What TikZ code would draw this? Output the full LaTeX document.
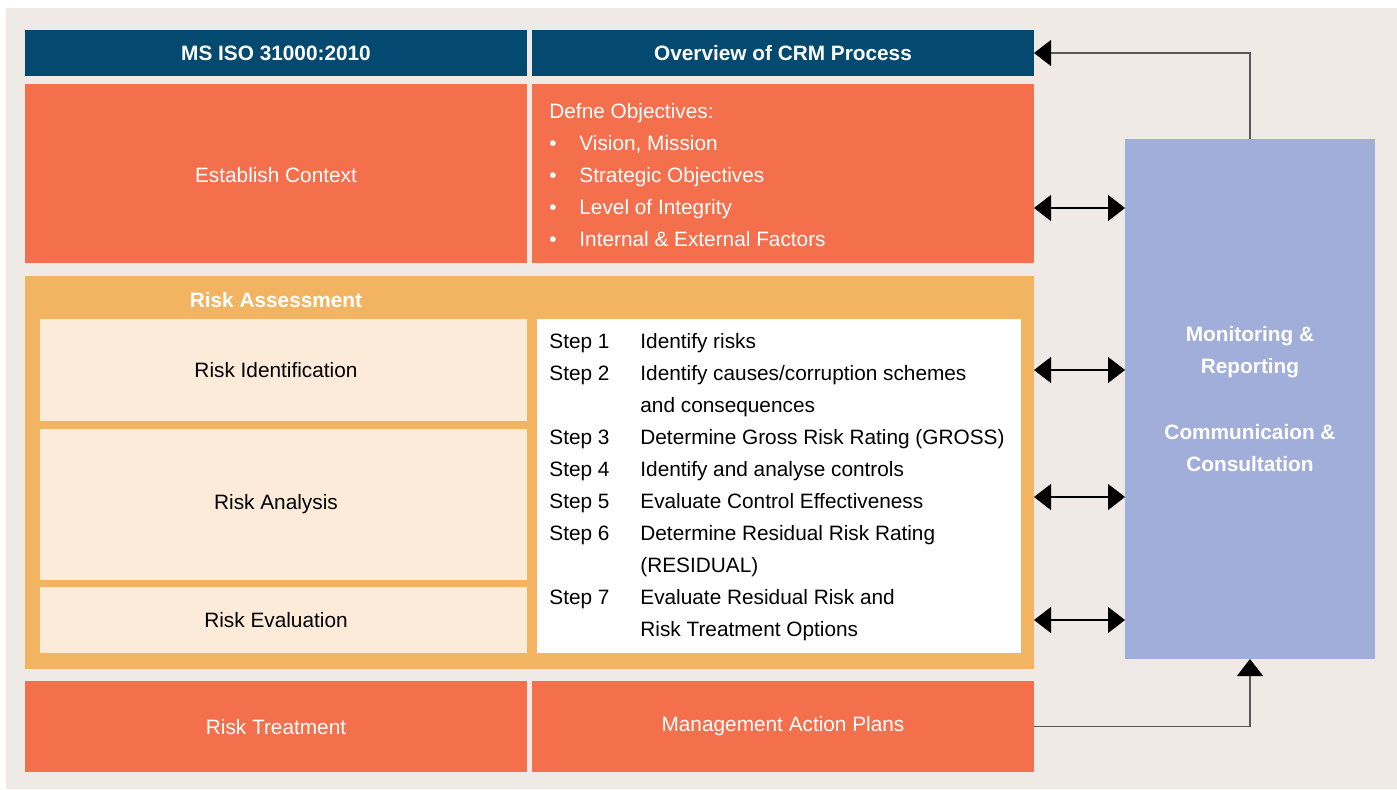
\documentclass[tikz,border=0pt]{standalone}
\usepackage{fontspec}
\setmainfont{Liberation Sans}
\usetikzlibrary{arrows.meta}
\usepackage{xcolor}
\definecolor{navy}{HTML}{044A70}
\definecolor{coral}{HTML}{F4704D}
\definecolor{gold}{HTML}{F2B461}
\definecolor{cream}{HTML}{FCEBD8}
\definecolor{lilac}{HTML}{A2AEDA}
\definecolor{paper}{HTML}{EFEAE6}

\begin{document}
\begin{tikzpicture}[x=0.5pt,y=-0.5pt,font=\fontsize{10.4}{12}\selectfont,
  >={Triangle[length=8.5pt,width=13pt,color=black]},
  box/.style={inner sep=0pt,outer sep=0pt,minimum width=251pt},
  hdr/.style={box,fill=navy,text=white,font=\fontsize{10.4}{12}\selectfont\bfseries,minimum height=23pt},
  hot/.style={box,fill=coral,text=white},
  sub/.style={box,fill=cream,minimum width=243.5pt},
  txt/.style={inner sep=0pt,anchor=base west},
  wtxt/.style={txt,text=white},
  btxt/.style={text=white,font=\fontsize{10.4}{12}\selectfont\bfseries},
  link/.style={draw=black!65,line width=0.6pt},
  dbl/.style={draw=black,line width=0.6pt}]
\useasboundingbox (0,0) rectangle (1397,789);
\fill[paper] (6,8) rectangle (1397,789);
% header row
\node[hdr] (iso) at (276,53) {MS ISO 31000:2010};
\node[hdr] (crm) at (783,53) {Overview of CRM Process};
% context row
\node[hot,minimum height=89.5pt] (ctx) at (276,173.5) {};
\node (ctxlbl) [text=white] at (276,175) {Establish Context};
\node[hot,minimum height=89.5pt] (obj) at (783,173.5) {};
\node[wtxt] at (549,118) {Defne Objectives:};
\node[wtxt] at (549,150) {•};
\node[wtxt] at (579,150) {Vision, Mission};
\node[wtxt] at (549,182) {•};
\node[wtxt] at (579,182) {Strategic Objectives};
\node[wtxt] at (549,214) {•};
\node[wtxt] at (579,214) {Level of Integrity};
\node[wtxt] at (549,246) {•};
\node[wtxt] at (579,246) {Internal \& External Factors};
% risk assessment
\node[box,fill=gold,minimum width=504.5pt,minimum height=196.5pt] (assess) at (529.5,472.5) {};
\node[btxt] (assesslbl) at (276,300) {Risk Assessment};
\node[sub,minimum height=51pt] (ident) at (283.5,370) {};
\node (identlbl) at (276,370) {Risk Identification};
\node[sub,minimum height=75.5pt] (anal) at (283.5,504.5) {};
\node (anallbl) at (276,504) {Risk Analysis};
\node[sub,minimum height=33pt] (evalu) at (283.5,620) {};
\node (evalulbl) at (276,620) {Risk Evaluation};
\node[box,fill=white,minimum width=242pt,minimum height=167pt] (steps) at (779,486) {};
\node[txt] at (549,348) {Step 1};
\node[txt] at (640,348) {Identify risks};
\node[txt] at (549,380) {Step 2};
\node[txt] at (640,380) {Identify causes/corruption schemes};
\node[txt] at (640,412) {and consequences};
\node[txt] at (549,444) {Step 3};
\node[txt] at (640,444) {Determine Gross Risk Rating (GROSS)};
\node[txt] at (549,476) {Step 4};
\node[txt] at (640,476) {Identify and analyse controls};
\node[txt] at (549,508) {Step 5};
\node[txt] at (640,508) {Evaluate Control Effectiveness};
\node[txt] at (549,540) {Step 6};
\node[txt] at (640,540) {Determine Residual Risk Rating};
\node[txt] at (640,572) {(RESIDUAL)};
\node[txt] at (549,604) {Step 7};
\node[txt] at (640,604) {Evaluate Residual Risk and};
\node[txt] at (640,636) {Risk Treatment Options};
% treatment row
\node[hot,minimum height=45.5pt] (treat) at (276,726.5) {};
\node (treatlbl) [text=white] at (276,727) {Risk Treatment};
\node[hot,minimum height=45.5pt] (plan) at (783,726.5) {};
\node (planlbl) [text=white] at (783,726) {Management Action Plans};
% monitoring column
\node[box,fill=lilac,minimum width=125pt,minimum height=260pt] (mon) at (1250,399) {};
\node[btxt] at (1250,336) {Monitoring \&};
\node[btxt] at (1250,368) {Reporting};
\node[btxt] at (1250,432) {Communicaion \&};
\node[btxt] at (1250,464) {Consultation};
% connectors
\draw[link,->] (mon.north) |- (crm.east);
\draw[link,->] (plan.east) -| (mon.south);
\draw[dbl,<->] (obj.east |- 0,208) -- (mon.west |- 0,208);
\draw[dbl,<->] (assess.east |- 0,370) -- (mon.west |- 0,370);
\draw[dbl,<->] (assess.east |- 0,497) -- (mon.west |- 0,497);
\draw[dbl,<->] (assess.east |- 0,620) -- (mon.west |- 0,620);
\end{tikzpicture}
\end{document}
